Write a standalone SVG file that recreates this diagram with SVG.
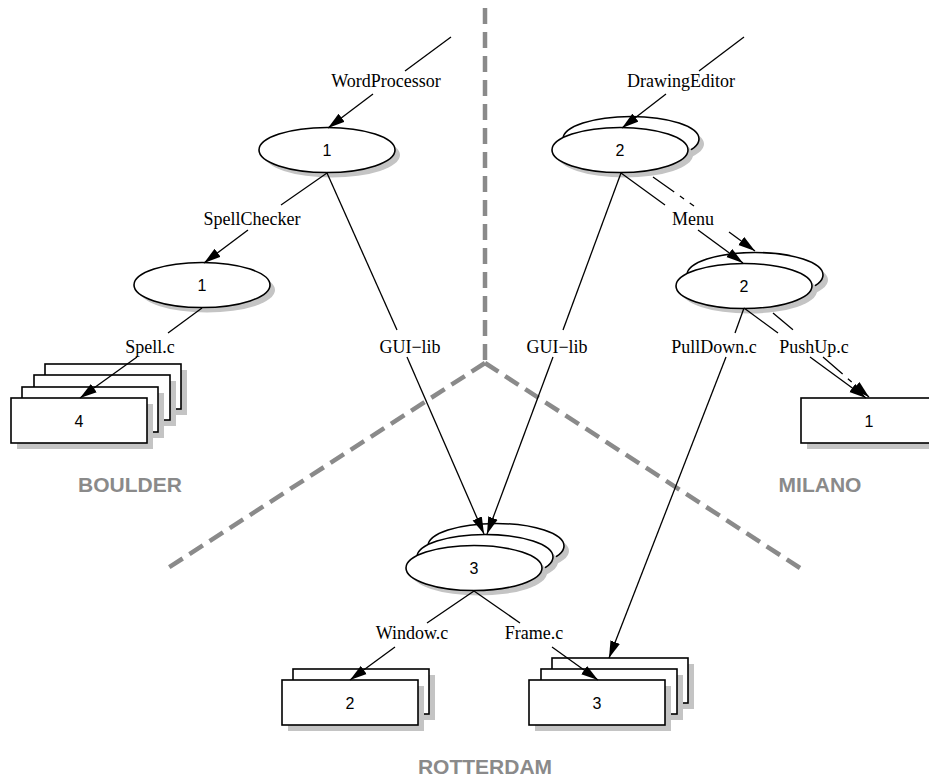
<svg xmlns="http://www.w3.org/2000/svg" width="929" height="778" viewBox="0 0 929 778">
<style>
.region{fill:none;stroke:#8a8a8a;stroke-width:4.5;stroke-dasharray:16,8}
.rlabel{font-family:"Liberation Sans",Arial,sans-serif;font-weight:bold;font-size:21px;fill:#8a8a8a;text-anchor:middle}
.node{fill:#fff;stroke:#000;stroke-width:1.6}
.shadow{fill:#c4c4c4;stroke:none}
.num{font-family:"Liberation Sans",Arial,sans-serif;font-size:16px;fill:#000;text-anchor:middle}
.lbl{font-family:"Liberation Serif","Times New Roman",serif;font-size:18px;fill:#000;text-anchor:middle}
.edge{fill:none;stroke:#000;stroke-width:1.3}
.dash{fill:none;stroke:#000;stroke-width:1.3;stroke-dasharray:26,7,5,7}
</style>
<defs>
<marker id="ah" markerUnits="userSpaceOnUse" markerWidth="18" markerHeight="11" refX="17" refY="5.5" orient="auto">
<path d="M0,0.5 L17,5.5 L0,10.5 Z" fill="#000"/>
</marker>
</defs>

<g id="regions">
<polyline class="region" points="485,8 485,363"/>
<line class="region" x1="485" y1="363" x2="168" y2="568"/>
<line class="region" x1="485" y1="363" x2="800" y2="568"/>
<text class="rlabel" x="130" y="492">BOULDER</text>
<text class="rlabel" x="820" y="492">MILANO</text>
<text class="rlabel" x="485" y="774">ROTTERDAM</text>
</g>

<g id="node-wp1">
<ellipse class="shadow" cx="332" cy="155" rx="68" ry="22.5"/>
<ellipse class="node" cx="327" cy="150" rx="68" ry="22.5"/>
<text class="num" x="327" y="156">1</text>
</g>

<g id="node-sc1">
<ellipse class="shadow" cx="207" cy="290" rx="68" ry="22.5"/>
<ellipse class="node" cx="202" cy="285" rx="68" ry="22.5"/>
<text class="num" x="202" y="291">1</text>
</g>

<g id="node-spell4">
<rect class="shadow" x="51" y="370" width="136" height="45"/>
<rect class="node" x="45" y="364" width="136" height="45"/>
<rect class="shadow" x="40" y="381" width="136" height="45"/>
<rect class="node" x="34" y="375" width="136" height="45"/>
<rect class="shadow" x="28" y="393" width="136" height="45"/>
<rect class="node" x="22" y="387" width="136" height="45"/>
<rect class="shadow" x="17" y="404" width="136" height="45"/>
<rect class="node" x="11" y="398" width="136" height="45"/>
<text class="num" x="79" y="427">4</text>
</g>

<g id="node-de2">
<ellipse class="shadow" cx="636" cy="144" rx="68" ry="22.5"/>
<ellipse class="node" cx="631" cy="139" rx="68" ry="22.5"/>
<ellipse class="shadow" cx="625" cy="155" rx="68" ry="22.5"/>
<ellipse class="node" cx="620" cy="150" rx="68" ry="22.5"/>
<text class="num" x="620" y="156">2</text>
</g>

<g id="node-menu2">
<ellipse class="shadow" cx="760" cy="280" rx="68" ry="22.5"/>
<ellipse class="node" cx="755" cy="275" rx="68" ry="22.5"/>
<ellipse class="shadow" cx="749" cy="291" rx="68" ry="22.5"/>
<ellipse class="node" cx="744" cy="286" rx="68" ry="22.5"/>
<text class="num" x="744" y="292">2</text>
</g>

<g id="node-push1">
<rect class="shadow" x="807" y="404" width="136" height="45"/>
<rect class="node" x="801" y="398" width="136" height="45"/>
<text class="num" x="869" y="427">1</text>
</g>

<g id="node-gui3">
<ellipse class="shadow" cx="501" cy="551" rx="68" ry="22.5"/>
<ellipse class="node" cx="496" cy="546" rx="68" ry="22.5"/>
<ellipse class="shadow" cx="490" cy="562" rx="68" ry="22.5"/>
<ellipse class="node" cx="485" cy="557" rx="68" ry="22.5"/>
<ellipse class="shadow" cx="479" cy="573" rx="68" ry="22.5"/>
<ellipse class="node" cx="474" cy="568" rx="68" ry="22.5"/>
<text class="num" x="474" y="574">3</text>
</g>

<g id="node-window2">
<rect class="shadow" x="299" y="675" width="136" height="45"/>
<rect class="node" x="293" y="669" width="136" height="45"/>
<rect class="shadow" x="288" y="686" width="136" height="45"/>
<rect class="node" x="282" y="680" width="136" height="45"/>
<text class="num" x="350" y="709">2</text>
</g>

<g id="node-frame3">
<rect class="shadow" x="558" y="664" width="136" height="45"/>
<rect class="node" x="552" y="658" width="136" height="45"/>
<rect class="shadow" x="547" y="675" width="136" height="45"/>
<rect class="node" x="541" y="669" width="136" height="45"/>
<rect class="shadow" x="535" y="686" width="136" height="45"/>
<rect class="node" x="529" y="680" width="136" height="45"/>
<text class="num" x="597" y="709">3</text>
</g>

<g id="connectors">
<line class="edge" x1="451" y1="37" x2="405" y2="71"/>
<line class="edge" x1="373" y1="94" x2="328" y2="128" marker-end="url(#ah)"/>
<text class="lbl" x="386" y="87">WordProcessor</text>

<line class="edge" x1="327" y1="173" x2="281" y2="205"/>
<line class="edge" x1="248" y1="230" x2="204" y2="263" marker-end="url(#ah)"/>
<text class="lbl" x="252" y="225">SpellChecker</text>

<line class="edge" x1="202" y1="308" x2="168" y2="333"/>
<line class="edge" x1="137" y1="357" x2="80" y2="398" marker-end="url(#ah)"/>
<text class="lbl" x="150" y="353">Spell.c</text>

<line class="edge" x1="327" y1="173" x2="397" y2="330"/>
<line class="edge" x1="407" y1="357" x2="484" y2="534" marker-end="url(#ah)"/>
<text class="lbl" x="410" y="353">GUI−lib</text>

<line class="edge" x1="744" y1="37" x2="699" y2="71"/>
<line class="edge" x1="666" y1="94" x2="622" y2="128" marker-end="url(#ah)"/>
<text class="lbl" x="681" y="87">DrawingEditor</text>

<line class="edge" x1="621" y1="173" x2="563" y2="330"/>
<line class="edge" x1="553" y1="357" x2="487" y2="534" marker-end="url(#ah)"/>
<text class="lbl" x="557" y="353">GUI−lib</text>

<line class="edge" x1="621" y1="173" x2="665" y2="205"/>
<line class="edge" x1="698" y1="230" x2="743" y2="263" marker-end="url(#ah)"/>
<line class="dash" x1="653" y1="177" x2="694" y2="206"/>
<line class="edge" x1="729" y1="232" x2="755" y2="251" marker-end="url(#ah)"/>
<text class="lbl" x="693" y="225">Menu</text>

<line class="edge" x1="744" y1="308" x2="735" y2="333"/>
<line class="edge" x1="726" y1="357" x2="609" y2="658" marker-end="url(#ah)"/>
<text class="lbl" x="714" y="353">PullDown.c</text>

<line class="edge" x1="744" y1="308" x2="778" y2="333"/>
<line class="edge" x1="810" y1="357" x2="866" y2="398" marker-end="url(#ah)"/>
<line class="dash" x1="773" y1="313" x2="797" y2="333"/>
<line class="dash" x1="823" y1="357" x2="869" y2="397" marker-end="url(#ah)"/>
<text class="lbl" x="814" y="353">PushUp.c</text>

<line class="edge" x1="474" y1="591" x2="427" y2="623"/>
<line class="edge" x1="395" y1="647" x2="350" y2="680" marker-end="url(#ah)"/>
<text class="lbl" x="412" y="639">Window.c</text>

<line class="edge" x1="474" y1="591" x2="520" y2="623"/>
<line class="edge" x1="552" y1="647" x2="598" y2="680" marker-end="url(#ah)"/>
<text class="lbl" x="534" y="639">Frame.c</text>
</g>
</svg>
